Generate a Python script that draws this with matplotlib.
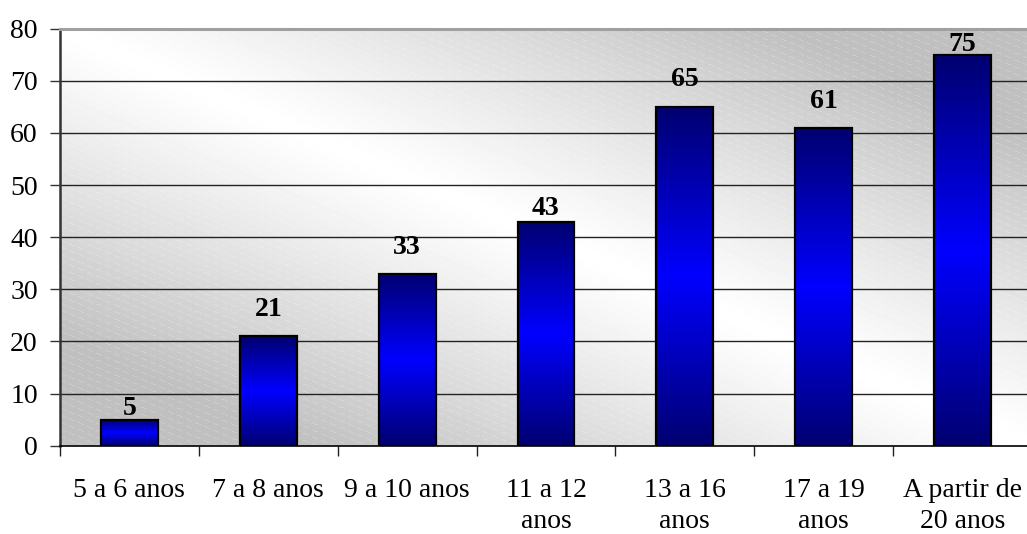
import numpy as np
import matplotlib
matplotlib.use("Agg")
import matplotlib.pyplot as plt
from matplotlib.colors import LinearSegmentedColormap

categories = ["5 a 6 anos", "7 a 8 anos", "9 a 10 anos", "11 a 12\nanos",
              "13 a 16\nanos", "17 a 19\nanos", "A partir de\n20 anos"]
values = [5, 21, 33, 43, 65, 61, 75]
y_ticks = [0, 10, 20, 30, 40, 50, 60, 70, 80]
label_gap_pt = [3, 14.5, 14.5, 4.5, 15, 14.5, 3]

plt.rcParams['font.family'] = ['Liberation Serif', 'DejaVu Serif']

W, H = 1027, 534
fig = plt.figure(figsize=(W / 100, H / 100), dpi=100)
AW, AH = 972, 417
ax = fig.add_axes([60 / W, (H - 445.7) / H, AW / W, AH / H])

# background gradient (diagonal) with faint dashed diagonal stripes
X, Y = np.meshgrid(np.arange(AW), np.arange(AH))  # Y from top
U, V = X / (AW - 1), Y / (AH - 1)
d = np.abs(U - V)
g = np.clip(d / 0.75, 0, 1) ** 1.1
bg = 1.0 - 0.25 * g
stripe = (((Y - 0.42 * X) % 7) < 1.0) & ((X % 9) < 6)
bg = bg + stripe * 0.05 * g
bg = np.clip(bg, 0, 1)
ax.imshow(bg, cmap='gray', vmin=0, vmax=1, extent=[0, 1, 0, 1],
          transform=ax.transAxes, aspect='auto', zorder=0, interpolation='nearest')

x = np.arange(len(categories))

for yt in y_ticks[1:-1]:
    ax.axhline(yt, color='#222222', lw=1.0, zorder=1)

bars = ax.bar(x, values, width=0.41, facecolor='none', edgecolor='black',
              linewidth=1.6, zorder=3)

cmap = LinearSegmentedColormap.from_list('bar', ['#000070', '#0000ff', '#000070'])
grad = np.linspace(0, 1, 256).reshape(-1, 1)
for b in bars:
    x0, y0 = b.get_x(), b.get_y()
    ax.imshow(grad, cmap=cmap, extent=[x0, x0 + b.get_width(), y0, y0 + b.get_height()],
              aspect='auto', zorder=2, interpolation='bilinear')

ax.set_xlim(-0.5, len(categories) - 0.5)
ax.set_ylim(0, 80)

for xi, val, gap in zip(x, values, label_gap_pt):
    ax.annotate(str(val), (xi, val), xytext=(0, gap), textcoords='offset points',
                ha='center', va='baseline', fontsize=20, fontweight='bold', zorder=4)

ax.set_yticks(y_ticks)
ax.set_yticklabels([str(t) for t in y_ticks], fontsize=20)
ax.tick_params(axis='y', length=7, width=1, color='#333333', pad=9)

ax.set_xticks(np.arange(len(categories) + 1) - 0.5, minor=False)
ax.set_xticklabels([])
ax.tick_params(axis='x', which='major', length=7, width=1, color='#222222')
ax.set_xticks(x, minor=True)
ax.set_xticklabels(categories, minor=True, fontsize=20, linespacing=1.35)
ax.tick_params(axis='x', which='minor', length=0, pad=23)

ax.spines['right'].set_visible(False)
ax.spines['top'].set_color('#a0a0a0')
ax.spines['top'].set_linewidth(2.2)
ax.spines['left'].set_color('#333333')
ax.spines['left'].set_linewidth(1.8)
ax.spines['bottom'].set_color('black')
ax.spines['bottom'].set_linewidth(1.2)

fig.savefig('out.png', dpi=100)
